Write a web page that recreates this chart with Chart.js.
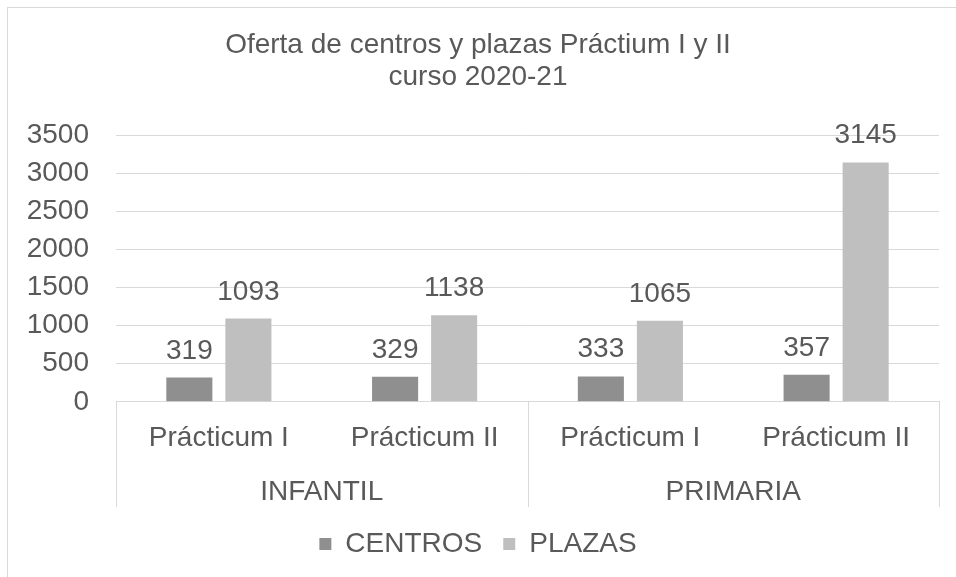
<!DOCTYPE html>
<html>
<head>
<meta charset="utf-8">
<script src="https://cdn.jsdelivr.net/npm/chart.js@4"></script>
<style>
  html, body { margin: 0; padding: 0; background: #fff; }
  #wrap { position: relative; width: 956px; height: 577px; overflow: hidden; }
  #frame { position: absolute; left: 7px; top: 7px; width: 1000px; height: 1000px;
           border-left: 1px solid #d9d9d9; border-top: 1px solid #d9d9d9; }
  #chart { position: absolute; left: 0; top: 0; }
</style>
</head>
<body>
<div id="wrap">
  <div id="frame"></div>
  <canvas id="chart" width="956" height="577"></canvas>
</div>
<script>
const titleLines = ['Oferta de centros y plazas Práctium I y II', 'curso 2020-21'];
const practicumLabels = ['Prácticum I', 'Prácticum II', 'Prácticum I', 'Prácticum II'];
const etapaLabels = ['INFANTIL', 'PRIMARIA'];
const centros = [319, 329, 333, 357];
const plazas = [1093, 1138, 1065, 3145];
const yTicks = [0, 500, 1000, 1500, 2000, 2500, 3000, 3500];

const textColor = '#595959';
const lineColor = '#d9d9d9';
const fontFamily = '"Liberation Sans", Arial, sans-serif';
const fontSize = 28;

// value labels above each bar
const valueLabels = {
    id: 'valueLabels',
    afterDatasetsDraw(chart) {
        const ctx = chart.ctx;
        ctx.save();
        ctx.font = fontSize + 'px ' + fontFamily;
        ctx.fillStyle = textColor;
        ctx.textAlign = 'center';
        ctx.textBaseline = 'alphabetic';
        chart.data.datasets.forEach((ds, i) => {
            chart.getDatasetMeta(i).data.forEach((bar, j) => {
                ctx.fillText(String(ds.data[j]), bar.x, bar.y - 19);
            });
        });
        ctx.restore();
    }
};

// group separators spanning both category rows
const groupLines = {
    id: 'groupLines',
    afterDraw(chart) {
        const x = chart.scales.x, x2 = chart.scales.x2;
        const step = (x2.right - x2.left) / etapaLabels.length;
        const ctx = chart.ctx;
        ctx.save();
        ctx.strokeStyle = lineColor;
        ctx.lineWidth = 1;
        for (let i = 0; i <= etapaLabels.length; i++) {
            const px = Math.round(x2.left + i * step) + 0.5;
            ctx.beginPath();
            ctx.moveTo(px, x.top);
            ctx.lineTo(px, x2.bottom - 2);
            ctx.stroke();
        }
        ctx.restore();
    }
};

new Chart(document.getElementById('chart').getContext('2d'), {
    type: 'bar',
    data: {
        labels: practicumLabels,
        datasets: [
            { label: 'CENTROS', data: centros, backgroundColor: '#8f8f8f' },
            { label: 'PLAZAS', data: plazas, backgroundColor: '#bfbfbf' }
        ]
    },
    options: {
        responsive: false,
        animation: false,
        events: [],
        categoryPercentage: 0.574,
        barPercentage: 0.78,
        layout: { padding: { left: 17, right: 17, top: 0, bottom: 9 } },
        plugins: {
            title: {
                display: true,
                text: titleLines,
                color: textColor,
                font: { family: fontFamily, size: fontSize, weight: 'normal', lineHeight: 1.15 },
                padding: { top: 29, bottom: 42 }
            },
            legend: {
                position: 'bottom',
                labels: {
                    color: textColor,
                    font: { family: fontFamily, size: fontSize },
                    boxWidth: 12,
                    boxHeight: 12,
                    padding: 21
                }
            },
            tooltip: { enabled: false }
        },
        scales: {
            x: {
                position: 'bottom',
                grid: { display: false, drawTicks: false },
                border: { display: true, color: lineColor },
                ticks: { color: textColor, font: { family: fontFamily, size: fontSize }, padding: 20, maxRotation: 0 }
            },
            x2: {
                type: 'category',
                labels: etapaLabels,
                position: 'bottom',
                offset: true,
                grid: { display: false, drawTicks: false },
                border: { display: false },
                ticks: { color: textColor, font: { family: fontFamily, size: fontSize }, padding: 0, maxRotation: 0 }
            },
            y: {
                min: 0,
                max: 3500,
                afterBuildTicks: (axis) => { axis.ticks = yTicks.map(v => ({ value: v })); },
                afterFit: (axis) => { axis.width = 99; },
                grid: { color: lineColor, drawTicks: false },
                border: { display: false },
                ticks: {
                    color: textColor,
                    font: { family: fontFamily, size: fontSize },
                    padding: 27,
                    autoSkip: false,
                    callback: (v) => String(v)
                }
            }
        }
    },
    plugins: [valueLabels, groupLines]
});
</script>
</body>
</html>
